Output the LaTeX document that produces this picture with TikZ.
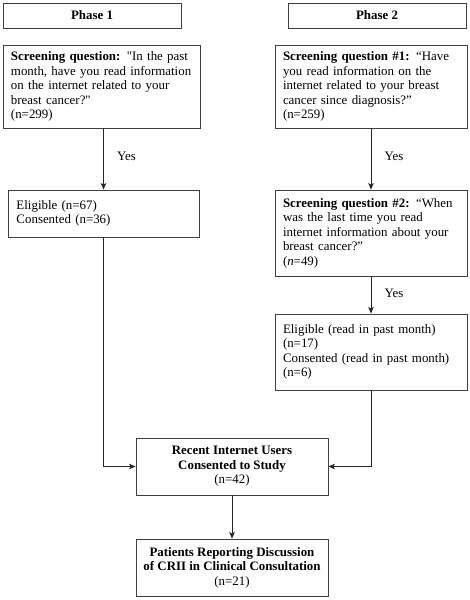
\documentclass[tikz,border=0pt]{standalone}
\usepackage{fontspec}
\setmainfont{Liberation Serif}[Ligatures=TeXOff]
\usetikzlibrary{arrows.meta}
\begin{document}
\begin{tikzpicture}[x=1bp,y=-1bp,
  font=\fontsize{12.9bp}{14.5bp}\selectfont,
  box/.style={draw=black!75, line width=0.9bp, inner sep=0pt, align=left},
  arr/.style={draw=black!85, line width=1bp, -{Stealth[length=6.5bp,width=5.5bp,inset=1.5bp]}},
  yes/.style={right, inner sep=0pt, xshift=13bp}]
\useasboundingbox (0,0) rectangle (470,600);
\node[box, align=center, minimum width=178bp, minimum height=25bp] (p1) at (92,15.5) {\textbf{Phase 1}};
\node[box, align=center, minimum width=178bp, minimum height=25bp] (p2) at (377,15.5) {\textbf{Phase 2}};
\node[box, minimum width=197bp, minimum height=83bp, text width=181bp] (q1) at (101.5,86.5)
  {\textbf{Screening question:} "In the past\\month, have you read information\\on the internet related to your\\breast cancer?"\\(n=299)};
\node[box, minimum width=192bp, minimum height=83bp, text width=176bp] (r1) at (371,86.5)
  {\textbf{Screening question \#1:} “Have\\you read information on the\\internet related to your breast\\cancer since diagnosis?”\\(n=259)};
\node[box, minimum width=191bp, minimum height=47bp, text width=174bp] (e1) at (103.5,213.5)
  {Eligible (n=67)\\Consented (n=36)\\[12bp]};
\node[box, minimum width=192bp, minimum height=86bp, text width=176bp] (r2) at (371,233)
  {\textbf{Screening question \#2:} “When\\was the last time you read\\internet information about your\\breast cancer?”\\(\textit{n}=49)};
\node[box, minimum width=192bp, minimum height=76bp, text width=176bp] (e2) at (371,352)
  {Eligible (read in past month)\\(n=17)\\Consented (read in past month)\\(n=6)};
\node[box, align=center, minimum width=192bp, minimum height=57bp] (rec) at (232,466.5)
  {\textbf{Recent Internet Users}\\\textbf{Consented to Study}\\(n=42)};
\node[box, align=center, minimum width=192bp, minimum height=57bp] (pat) at (232,567.5)
  {\textbf{Patients Reporting Discussion}\\\textbf{of CRII in Clinical Consultation}\\(n=21)};
\draw[arr] (e1.north |- q1.south) -- node[yes, pos=0.45] (y1) {Yes} (e1.north);
\draw[arr] (r1.south) -- node[yes, pos=0.45] (y2) {Yes} (r2.north);
\draw[arr] (r2.south) -- node[yes, pos=0.45] (y3) {Yes} (e2.north);
\draw[arr] (e1.south) |- (rec.west);
\draw[arr] (e2.south) |- (rec.east);
\draw[arr] (rec.south) -- (pat.north);
\end{tikzpicture}
\end{document}
